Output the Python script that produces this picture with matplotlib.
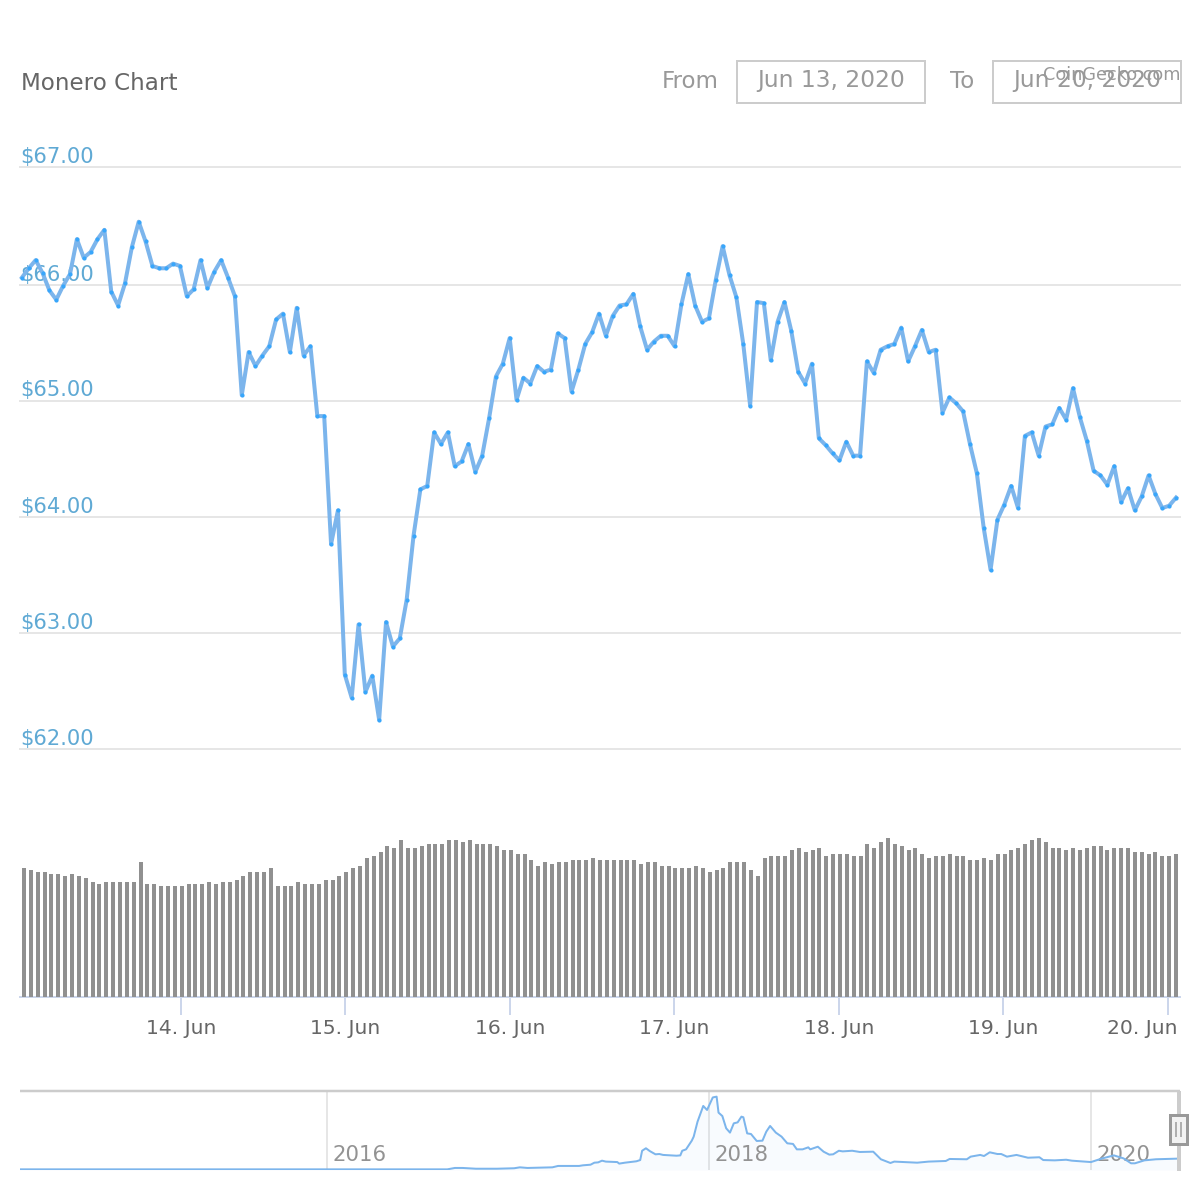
#!/usr/bin/env python3
"""Monero price chart, Jun 13 - Jun 20 2020, with volume bars and navigator."""
import matplotlib

matplotlib.use("Agg")
import matplotlib.pyplot as plt
from matplotlib.patches import Rectangle
import numpy as np

# hourly price in USD
prices = [
    66.05, 66.13, 66.20, 66.09, 65.94, 65.86, 65.98, 66.08, 66.38, 66.22, 66.27, 66.38, 66.46,
    65.93, 65.81, 66.00, 66.31, 66.53, 66.36, 66.15, 66.13, 66.13, 66.17, 66.15, 65.89, 65.95,
    66.20, 65.96, 66.10, 66.20, 66.05, 65.89, 65.04, 65.41, 65.29, 65.38, 65.46, 65.69, 65.74,
    65.41, 65.79, 65.38, 65.46, 64.86, 64.86, 63.76, 64.05, 62.64, 62.44, 63.07, 62.49, 62.63,
    62.25, 63.09, 62.88, 62.95, 63.28, 63.83, 64.23, 64.26, 64.72, 64.62, 64.72, 64.43, 64.47,
    64.62, 64.38, 64.52, 64.84, 65.20, 65.31, 65.53, 65.00, 65.19, 65.14, 65.29, 65.24, 65.26,
    65.57, 65.53, 65.07, 65.26, 65.48, 65.58, 65.74, 65.55, 65.72, 65.81, 65.82, 65.91, 65.63,
    65.43, 65.50, 65.55, 65.55, 65.46, 65.82, 66.08, 65.81, 65.67, 65.70, 66.03, 66.32, 66.07,
    65.88, 65.48, 64.95, 65.84, 65.83, 65.34, 65.67, 65.84, 65.59, 65.24, 65.14, 65.31, 64.67,
    64.61, 64.54, 64.48, 64.64, 64.52, 64.52, 65.33, 65.23, 65.43, 65.46, 65.48, 65.62, 65.33,
    65.46, 65.60, 65.41, 65.43, 64.89, 65.02, 64.97, 64.90, 64.62, 64.37, 63.90, 63.54, 63.97,
    64.10, 64.26, 64.07, 64.69, 64.72, 64.52, 64.77, 64.79, 64.93, 64.83, 65.10, 64.85, 64.65,
    64.39, 64.35, 64.27, 64.43, 64.12, 64.24, 64.05, 64.17, 64.35, 64.19, 64.07, 64.09, 64.16,
]

# volume, no scale on the chart so relative units
volumes = [
    129, 127, 125, 125, 123, 123, 121, 123, 121, 119, 115, 113, 115, 115, 115, 115, 115, 135,
    113, 113, 111, 111, 111, 111, 113, 113, 113, 115, 113, 115, 115, 117, 121, 125, 125, 125,
    129, 111, 111, 111, 115, 113, 113, 113, 117, 117, 121, 125, 129, 131, 139, 141, 145, 151,
    149, 157, 149, 149, 151, 153, 153, 153, 157, 157, 155, 157, 153, 153, 153, 151, 147, 147,
    143, 143, 137, 131, 135, 133, 135, 135, 137, 137, 137, 139, 137, 137, 137, 137, 137, 137,
    133, 135, 135, 131, 131, 129, 129, 129, 131, 129, 125, 127, 129, 135, 135, 135, 127, 121,
    139, 141, 141, 141, 147, 149, 145, 147, 149, 141, 143, 143, 143, 141, 141, 153, 149, 155,
    159, 153, 151, 147, 149, 143, 139, 141, 141, 143, 141, 141, 137, 137, 139, 137, 143, 143,
    147, 149, 153, 157, 159, 155, 149, 149, 147, 149, 147, 149, 151, 151, 147, 149, 149, 149,
    145, 145, 143, 145, 141, 141, 143,
]

# all time history for the navigator
hist_years = [
    2014.39, 2016.02, 2016.63, 2016.67, 2016.71, 2016.78, 2016.89, 2016.98, 2017.01, 2017.05,
    2017.18, 2017.21, 2017.32, 2017.34, 2017.38, 2017.40, 2017.42, 2017.44, 2017.46, 2017.52,
    2017.53, 2017.56, 2017.62, 2017.64, 2017.65, 2017.67, 2017.69, 2017.72, 2017.74, 2017.76,
    2017.83, 2017.85, 2017.86, 2017.88, 2017.91, 2017.92, 2017.94, 2017.97, 2017.99, 2018.02,
    2018.04, 2018.05, 2018.07, 2018.09, 2018.11, 2018.13, 2018.15, 2018.17, 2018.18, 2018.20,
    2018.22, 2018.25, 2018.28, 2018.30, 2018.32, 2018.35, 2018.38, 2018.41, 2018.44, 2018.46,
    2018.49, 2018.52, 2018.53, 2018.57, 2018.60, 2018.63, 2018.65, 2018.68, 2018.70, 2018.75,
    2018.79, 2018.86, 2018.90, 2018.95, 2018.97, 2019.09, 2019.15, 2019.24, 2019.26, 2019.35,
    2019.37, 2019.42, 2019.44, 2019.47, 2019.51, 2019.53, 2019.56, 2019.61, 2019.67, 2019.73,
    2019.75, 2019.81, 2019.87, 2019.90, 2020.00, 2020.06, 2020.12, 2020.17, 2020.21, 2020.23,
    2020.28, 2020.34, 2020.45,
]
hist_prices = [
    1, 1, 1, 10, 10, 5, 5, 8, 14, 10,
    14, 23, 23, 27, 31, 44, 46, 57, 51, 48,
    38, 44, 53, 61, 121, 137, 119, 98, 100, 94,
    89, 91, 121, 130, 186, 212, 308, 410, 384, 465,
    470, 367, 345, 266, 238, 298, 304, 341, 337, 233,
    229, 184, 186, 244, 281, 238, 212, 169, 165, 130,
    130, 143, 130, 147, 115, 96, 98, 121, 117, 121,
    113, 115, 66, 42, 51, 44, 51, 55, 68, 66,
    83, 94, 87, 111, 100, 100, 83, 94, 76, 79,
    61, 59, 63, 57, 48, 72, 91, 72, 40, 40,
    59, 66, 70,
]

price_ticks = [62.0, 62.996, 63.993, 64.99, 65.986, 67.0]
price_labels = ["$62.00", "$63.00", "$64.00", "$65.00", "$66.00", "$67.00"]
day_ticks = [14, 15, 16, 17, 18, 19, 20]
day_labels = ["14. Jun", "15. Jun", "16. Jun", "17. Jun", "18. Jun", "19. Jun", "20. Jun"]
year_ticks = [2016, 2018, 2020]

LINE = "#7cb5ec"
DOT = "#38a6fb"
GRID = "#e6e6e6"
AXIS = "#ccd6eb"
PX = 0.72  # one pixel in points at dpi 100


def rect(left, top, right, bottom):
    return [left / 1200, 1 - bottom / 1200, (right - left) / 1200, (bottom - top) / 1200]


def blank(ax):
    for s in ax.spines.values():
        s.set_visible(False)
    ax.set_xticks([])
    ax.set_yticks([])
    ax.patch.set_alpha(0)


fig = plt.figure(figsize=(12, 12), dpi=100, facecolor="white")
x_min, x_max = 13.0213, 20.073

# price
ax = fig.add_axes(rect(20, 167, 1180, 749))
blank(ax)
ax.set_xlim(x_min, x_max)
ax.set_ylim(62, 67)
days = np.linspace(13.033, 20.049, len(prices))
for v, lab in zip(price_ticks, price_labels):
    ax.axhline(v, color=GRID, lw=2 * PX, zorder=1, clip_on=False)
    ax.annotate(lab, xy=(0, v), xycoords=("axes fraction", "data"), xytext=(0.5 * PX, 10.5 * PX),
                textcoords="offset points", ha="left", va="center", fontsize=15.1,
                color="#5fa9d4", zorder=2, annotation_clip=False)
ax.plot(days, prices, color=LINE, lw=4 * PX, solid_joinstyle="round", zorder=3, clip_on=False)
ax.plot(days, prices, "o", color=DOT, ms=4.2 * PX, mew=0, zorder=4, clip_on=False)

# volume
vx = fig.add_axes(rect(20, 837, 1180, 997))
for name, s in vx.spines.items():
    s.set_visible(name == "bottom")
vx.spines["bottom"].set_color(AXIS)
vx.spines["bottom"].set_linewidth(2 * PX)
vx.patch.set_alpha(0)
vx.set_xlim(x_min, x_max)
vx.set_ylim(0, 160)
bar_days = np.linspace(13.0456, 20.049, len(volumes))
vx.bar(bar_days, volumes, width=4 / 164.5, color="#909090", zorder=3)
vx.set_yticks([])
vx.set_xticks(day_ticks)
vx.set_xticklabels([])
vx.tick_params(axis="x", length=18 * PX, width=2 * PX, color=AXIS)
for d, lab in zip(day_ticks, day_labels):
    shift = -26 if d == 20 else 0
    vx.annotate(lab, xy=(d, 0), xycoords=("data", "axes fraction"),
                xytext=(shift * PX, -31 * PX), textcoords="offset points",
                ha="center", va="center", fontsize=14.6, color="#666666",
                annotation_clip=False)

# navigator
nav = fig.add_axes(rect(20, 1092, 1180, 1170))
blank(nav)
nav.set_xlim(2014.393, 2020.466)
nav.set_ylim(-3.2, 500)
for y in year_ticks:
    nav.axvline(y, color=GRID, lw=2 * PX, zorder=1)
    nav.annotate(str(y), xy=(y, 0), xycoords=("data", "axes fraction"), xytext=(6 * PX, 15 * PX),
                 textcoords="offset points", ha="left", va="center", fontsize=15.3,
                 color="#939393", zorder=2)
nav.fill_between(hist_years, hist_prices, -3.2, color=LINE, alpha=0.05, lw=0, zorder=1.5)
nav.plot(hist_years, hist_prices, color=LINE, lw=2 * PX, zorder=3)

# header, inputs and navigator handle, drawn in pixel space
ui = fig.add_axes([0, 0, 1, 1])
blank(ui)
ui.set_xlim(0, 1200)
ui.set_ylim(1200, 0)
ui.set_zorder(5)
ui.text(21, 83, "Monero Chart", fontsize=16.6, color="#666666", ha="left", va="center")
ui.text(662, 81, "From", fontsize=16.5, color="#999999", ha="left", va="center")
ui.text(950, 81, "To", fontsize=16.5, color="#999999", ha="left", va="center")
for left, right, lab in [(737, 925, "Jun 13, 2020"), (993, 1181, "Jun 20, 2020")]:
    ui.add_patch(Rectangle((left, 61), right - left, 42, fc="none", ec="#cccccc", lw=2 * PX))
    ui.text((left + right) / 2, 81, lab, fontsize=16.8, color="#999999", ha="center", va="center")
ui.text(1180, 75, "CoinGecko.com", fontsize=12.7, color="#999999", ha="right", va="center")

ui.plot([20, 1180], [1091, 1091], color="#cccccc", lw=2.5 * PX, solid_capstyle="butt")
ui.add_patch(Rectangle((1177, 1091), 3.5, 80, fc="#cccccc", ec="none"))
ui.add_patch(Rectangle((1170, 1115), 17, 29, fc="#f2f2f2", ec="#999999", lw=3 * PX))
for hx in [1175.5, 1180.5]:
    ui.plot([hx, hx], [1122, 1137], color="#999999", lw=1.5 * PX, solid_capstyle="butt")

fig.savefig("out.png", dpi=100)
